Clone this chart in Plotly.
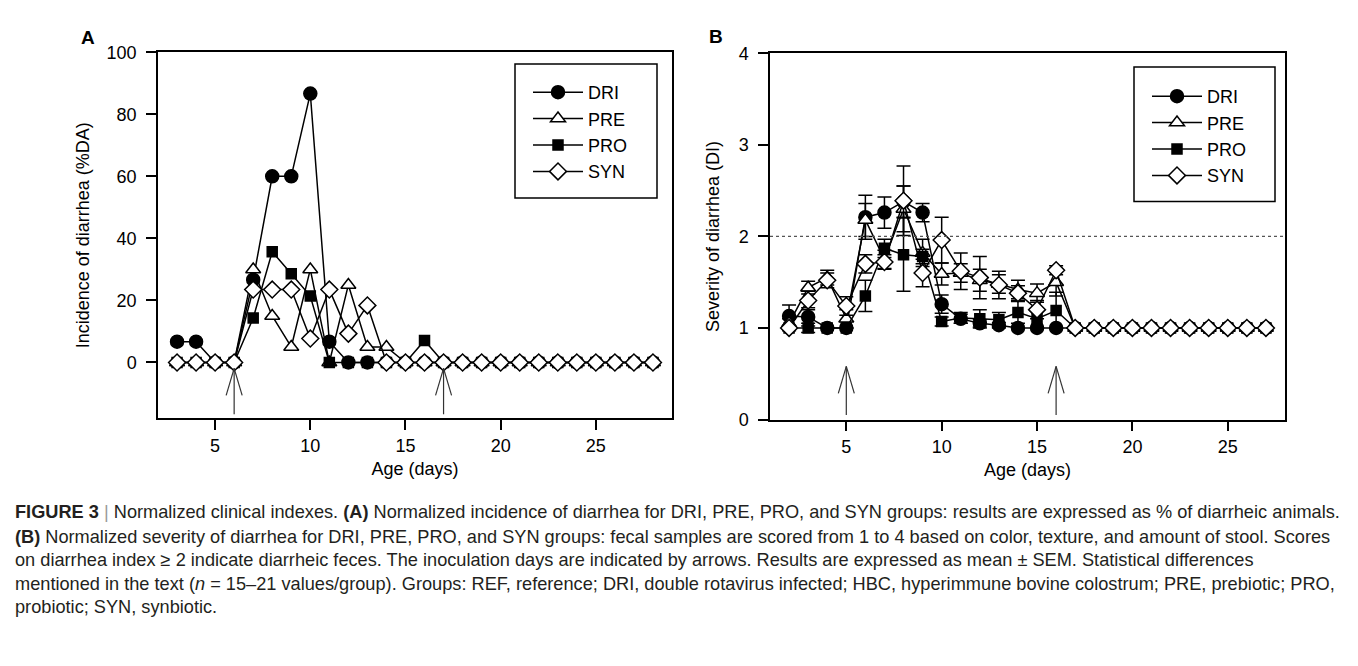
import plotly.graph_objects as go

W, H = 1358, 666

# ---------------- data ----------------
days = [3, 4, 5, 6, 7, 8, 9, 10, 11, 12, 13, 14, 15, 16, 17, 18, 19, 20, 21, 22, 23, 24, 25, 26, 27, 28]
b_days = [2, 3, 4, 5, 6, 7, 8, 9, 10, 11, 12, 13, 14, 15, 16, 17, 18, 19, 20, 21, 22, 23, 24, 25, 26, 27]
x_ticks = [5, 10, 15, 20, 25]
a_y_ticks = [0, 20, 40, 60, 80, 100]
b_y_ticks = [0, 1, 2, 3, 4]
groups = ["DRI", "PRE", "PRO", "SYN"]

# Panel A: incidence of diarrhea (% diarrheic animals)
inc_dri = [6.7, 6.7, 0, 0, 26.7, 60, 60, 86.7, 6.7, 0, 0, 0, 0, 0, 0, 0, 0, 0, 0, 0, 0, 0, 0, 0, 0, 0]
inc_pre = [0, 0, 0, 0, 30, 15, 5, 30, 0, 25, 5, 5, 0, 0, 0, 0, 0, 0, 0, 0, 0, 0, 0, 0, 0, 0]
inc_pro = [0, 0, 0, 0, 14.3, 35.7, 28.6, 21.4, 0, 0, 0, 0, 0, 7.1, 0, 0, 0, 0, 0, 0, 0, 0, 0, 0, 0, 0]
inc_syn = [0, 0, 0, 0, 23.5, 23.5, 23.5, 7.7, 23.5, 9.3, 18.4, 0, 0, 0, 0, 0, 0, 0, 0, 0, 0, 0, 0, 0, 0, 0]

# Panel B: severity of diarrhea (diarrhea index), mean and SEM
sev_dri = [1.13, 1.12, 1.0, 1.0, 2.21, 2.26, 2.38, 2.26, 1.26, 1.10, 1.05, 1.03, 1.0, 1.0, 1.0, 1.0, 1.0, 1.0, 1.0, 1.0, 1.0, 1.0, 1.0, 1.0, 1.0, 1.0]
sev_pre = [1.05, 1.44, 1.55, 1.10, 2.18, 1.75, 2.30, 1.82, 1.59, 1.60, 1.52, 1.48, 1.42, 1.38, 1.50, 1.0, 1.0, 1.0, 1.0, 1.0, 1.0, 1.0, 1.0, 1.0, 1.0, 1.0]
sev_pro = [1.0, 1.0, 1.0, 1.0, 1.35, 1.87, 1.80, 1.78, 1.07, 1.11, 1.10, 1.09, 1.17, 1.10, 1.19, 1.0, 1.0, 1.0, 1.0, 1.0, 1.0, 1.0, 1.0, 1.0, 1.0, 1.0]
sev_syn = [1.0, 1.30, 1.52, 1.24, 1.70, 1.72, 2.39, 1.60, 1.96, 1.62, 1.55, 1.47, 1.38, 1.20, 1.63, 1.0, 1.0, 1.0, 1.0, 1.0, 1.0, 1.0, 1.0, 1.0, 1.0, 1.0]
sem_dri = [0.12, 0.10, 0, 0, 0.24, 0.17, 0.17, 0.10, 0.10, 0.05, 0.04, 0.03, 0, 0, 0, 0, 0, 0, 0, 0, 0, 0, 0, 0, 0, 0]
sem_pre = [0.05, 0.07, 0.08, 0.10, 0.18, 0.10, 0.25, 0.15, 0.12, 0.10, 0.12, 0.10, 0.10, 0.10, 0.15, 0, 0, 0, 0.03, 0, 0, 0, 0, 0, 0, 0]
sem_pro = [0, 0.05, 0, 0, 0.17, 0.10, 0.40, 0.08, 0.05, 0.06, 0.10, 0.08, 0.12, 0.10, 0.20, 0, 0, 0, 0, 0, 0, 0, 0, 0, 0, 0]
sem_syn = [0.03, 0.10, 0.08, 0.10, 0.10, 0.08, 0.38, 0.15, 0.25, 0.20, 0.23, 0.15, 0.08, 0.10, 0.05, 0, 0, 0, 0, 0, 0, 0, 0, 0, 0, 0]

a_arrow_days = [6, 17]
b_arrow_days = [5, 16]
arrow_a = (-16.7, -1.9)   # arrow base / tip in panel A units
arrow_b = (0.05, 0.58)    # arrow base / tip in panel B units
diarrhea_threshold = 2

# ---------------- styling ----------------
FONT = "Liberation Sans, Arial, sans-serif"
sym = {"DRI": ("circle", "black", 13), "PRE": ("triangle-up", "white", 13),
       "PRO": ("square", "black", 10), "SYN": ("diamond", "white", 13)}


def px_x(p):
    return p / W


def px_y(p):
    return 1 - p / H


fig = go.Figure()

for g, ys in zip(groups, [inc_dri, inc_pre, inc_pro, inc_syn]):
    s, c, sz = sym[g]
    fig.add_trace(go.Scatter(
        x=days, y=ys, name=g, mode="lines+markers", xaxis="x", yaxis="y", legend="legend",
        line=dict(color="black", width=1.5),
        marker=dict(symbol=s, color=c, size=sz, line=dict(color="black", width=1.5)),
    ))

for g, ys, es in zip(groups, [sev_dri, sev_pre, sev_pro, sev_syn], [sem_dri, sem_pre, sem_pro, sem_syn]):
    s, c, sz = sym[g]
    fig.add_trace(go.Scatter(
        x=b_days, y=ys, name=g, mode="lines+markers", xaxis="x2", yaxis="y2", legend="legend2",
        line=dict(color="black", width=1.5),
        marker=dict(symbol=s, color=c, size=sz, line=dict(color="black", width=1.5)),
        error_y=dict(type="data", array=[e if e > 0 else None for e in es], visible=True,
                     color="black", thickness=1.5, width=7),
    ))

axis_common = dict(showline=True, linecolor="black", linewidth=1.5, mirror=True,
                   ticks="outside", ticklen=10, tickwidth=1.5, tickcolor="black",
                   showgrid=False, zeroline=False, automargin=False,
                   tickfont=dict(family=FONT, size=18, color="black"))
title_font = dict(family=FONT, size=18, color="black")

fig.update_layout(
    width=W, height=H, autosize=False,
    margin=dict(l=0, r=0, t=0, b=0, pad=0, autoexpand=False),
    paper_bgcolor="white", plot_bgcolor="white",
    showlegend=True,
    xaxis=dict(domain=[px_x(158), px_x(672)], range=[2, 29], anchor="y",
               tickvals=x_ticks, ticklabelstandoff=0, **axis_common,
               title=dict(text="Age (days)", font=title_font, standoff=8)),
    yaxis=dict(domain=[px_y(418.3), px_y(52.3)], range=[-18, 100], anchor="x",
               tickvals=a_y_ticks, ticklabelstandoff=6, **axis_common,
               title=dict(text="Incidence of diarrhea (%DA)", font=title_font, standoff=12)),
    xaxis2=dict(domain=[px_x(770), px_x(1285)], range=[1, 28], anchor="y2",
                tickvals=x_ticks, ticklabelstandoff=0, **axis_common,
                title=dict(text="Age (days)", font=title_font, standoff=8)),
    yaxis2=dict(domain=[px_y(419.5), px_y(53.3)], range=[0, 4], anchor="x2",
                tickvals=b_y_ticks, ticklabelstandoff=6, **axis_common,
                title=dict(text="Severity of diarrhea (DI)", font=title_font, standoff=14)),
    legend=dict(x=px_x(528), y=px_y(74), xanchor="left", yanchor="top",
                bgcolor="rgba(0,0,0,0)", borderwidth=0, itemwidth=50,
                font=dict(family=FONT, size=18, color="black"), tracegroupgap=0),
    legend2=dict(x=px_x(1147), y=px_y(78), xanchor="left", yanchor="top",
                 bgcolor="rgba(0,0,0,0)", borderwidth=0, itemwidth=50,
                 font=dict(family=FONT, size=18, color="black"), tracegroupgap=0),
)

shapes = []
# legend frames
shapes.append(dict(type="rect", xref="paper", yref="paper", x0=px_x(515), x1=px_x(657),
                   y0=px_y(198), y1=px_y(64), line=dict(color="black", width=1.5)))
shapes.append(dict(type="rect", xref="paper", yref="paper", x0=px_x(1134), x1=px_x(1275),
                   y0=px_y(201.5), y1=px_y(67), line=dict(color="black", width=1.5)))
# threshold line in B
shapes.append(dict(type="line", xref="x2 domain", yref="y2", x0=0, x1=1,
                   y0=diarrhea_threshold, y1=diarrhea_threshold,
                   line=dict(color="#555", width=1.3, dash="dot")))
# inoculation arrows
for xr, yr, arr_days, (base, tip) in [("x", "y", a_arrow_days, arrow_a), ("x2", "y2", b_arrow_days, arrow_b)]:
    for d in arr_days:
        shapes.append(dict(type="line", xref=xr, yref=yr, x0=d, x1=d, y0=base, y1=tip,
                           line=dict(color="#333", width=1.2)))
        for side in (-8, 8):
            shapes.append(dict(type="line", xref=xr, yref=yr,
                               xsizemode="pixel", xanchor=d, x0=0, x1=side,
                               ysizemode="pixel", yanchor=tip, y0=0, y1=-27,
                               line=dict(color="#333", width=1.2)))
fig.update_layout(shapes=shapes)

annotations = [
    dict(text="<b>A</b>", x=px_x(88), y=px_y(37), xref="paper", yref="paper", showarrow=False,
         xanchor="center", yanchor="middle", font=dict(family=FONT, size=19, color="black")),
    dict(text="<b>B</b>", x=px_x(716), y=px_y(36), xref="paper", yref="paper", showarrow=False,
         xanchor="center", yanchor="middle", font=dict(family=FONT, size=19, color="black")),
]
caption = [
    "<b>FIGURE 3</b> <span style='color:#999'>|</span> Normalized clinical indexes. <b>(A)</b> Normalized incidence of diarrhea for DRI, PRE, PRO, and SYN groups: results are expressed as % of diarrheic animals.",
    "<b>(B)</b> Normalized severity of diarrhea for DRI, PRE, PRO, and SYN groups: fecal samples are scored from 1 to 4 based on color, texture, and amount of stool. Scores",
    "on diarrhea index ≥ 2 indicate diarrheic feces. The inoculation days are indicated by arrows. Results are expressed as mean ± SEM. Statistical differences",
    "mentioned in the text (<i>n</i> = 15–21 values/group). Groups: REF, reference; DRI, double rotavirus infected; HBC, hyperimmune bovine colostrum; PRE, prebiotic; PRO,",
    "probiotic; SYN, synbiotic.",
]
cap_y = [512, 537, 560, 584, 607]
for t, yy in zip(caption, cap_y):
    annotations.append(dict(text=t, x=px_x(13), y=px_y(yy), xref="paper", yref="paper",
                            xanchor="left", yanchor="middle", showarrow=False, align="left",
                            font=dict(family=FONT, size=18.2, color="#231f20")))
fig.update_layout(annotations=annotations)

fig.write_html("out.html", config={"displayModeBar": False},
               post_script="document.body.style.margin='0';")
